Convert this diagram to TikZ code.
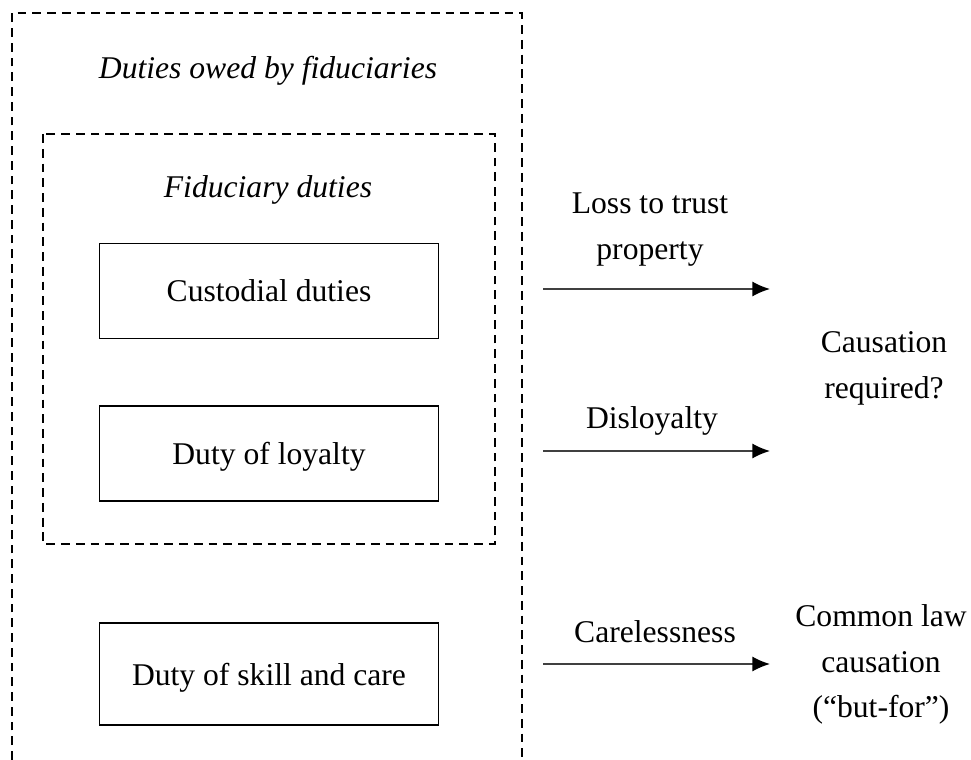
\documentclass[tikz,border=0pt]{standalone}
\usepackage{fontspec}
\setmainfont{Liberation Serif}
\usetikzlibrary{arrows.meta}
\tikzstyle{line} = [draw, black!75, line width=0.85pt, -{Latex[length=10pt,width=8.5pt,black]}]
\tikzstyle{block} = [draw, rectangle, line width=1pt, text centered, text depth=0pt, minimum width=6.78cm, minimum height=1.9cm]
\tikzstyle{frame} = [draw, line width=0.8pt, dash pattern=on 5pt off 3.4pt]
\tikzstyle{txt} = [align=center, inner sep=0pt]

\begin{document}
\begin{tikzpicture}[x=0.02cm, y=-0.02cm, font=\fontsize{18}{26}\selectfont]
        \useasboundingbox (0,0) rectangle (971,760);
        % dashed frames
        \draw[frame] (12,760) -- (12,13) -- (522,13) -- (522,760);
        \draw[frame] (43,134) rectangle (495,544);
        \node[txt, anchor=base] (owed) at (268,79) {\textit{Duties owed by fiduciaries}};
        \node[txt, anchor=base] (fiduciary) at (268,198) {\textit{Fiduciary duties}};
        % duties
        \node[block] (custodial) at (269,291) {Custodial duties};
        \node[block] (loyalty) at (269,453.5) {Duty of loyalty};
        \node[block, minimum height=2.04cm] (skill) at (269,674) {Duty of skill and care};
        % breaches
        \coordinate (lossstart) at (543,289);
        \coordinate (lossend) at (770,289);
        \coordinate (disstart) at (543,451);
        \coordinate (disend) at (770,451);
        \coordinate (carestart) at (543,664);
        \coordinate (careend) at (770,664);
        \node[txt] (loss) at (650,229.5) {Loss to trust\\property};
        \node[txt, anchor=base] (disloyalty) at (652,428) {Disloyalty};
        \node[txt, anchor=base] (careless) at (655,642) {Carelessness};
        \node[txt] (required) at (884,368.5) {Causation\\required?};
        \node[txt] (butfor) at (881,664.5) {Common law\\causation\\(“but-for”)};
        \path[line] (lossstart) -- (lossend);
        \path[line] (disstart) -- (disend);
        \path[line] (carestart) -- (careend);
    \end{tikzpicture}
\end{document}
